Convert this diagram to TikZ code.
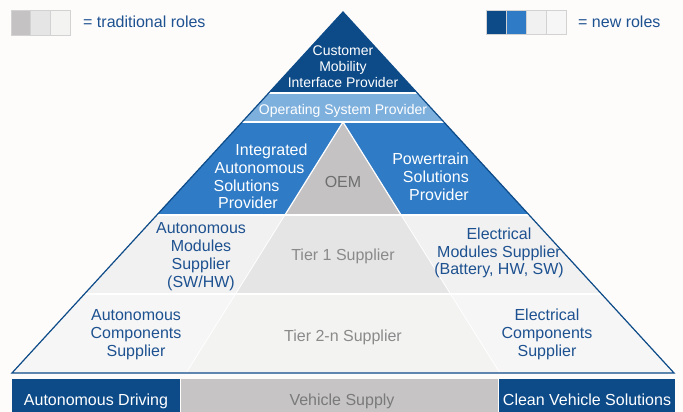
\documentclass[tikz,border=0pt]{standalone}
\usepackage{fontspec}
\setmainfont{Liberation Sans}
\definecolor{dblue}{HTML}{0C4A88}
\definecolor{mblue}{HTML}{2F7BC6}
\definecolor{lblue}{HTML}{7EB0DD}
\definecolor{oemgray}{HTML}{C4C2C2}
\definecolor{tonside}{HTML}{F1F1F1}
\definecolor{tonmid}{HTML}{E6E5E5}
\definecolor{ttwoside}{HTML}{F6F6F6}
\definecolor{ttwomid}{HTML}{F3F3F2}
\definecolor{txtblue}{HTML}{1D5190}
\definecolor{txtgray}{HTML}{8A8A8A}
\definecolor{oemtxt}{HTML}{6E6E6E}
\definecolor{bargray}{HTML}{C6C4C4}
\definecolor{bartxt}{HTML}{7A7A7A}
\definecolor{bgcol}{HTML}{FDFCFB}
\definecolor{sqborder}{HTML}{D2D2D2}
\begin{document}
\begin{tikzpicture}[x=1pt,y=-1pt,
  lbl/.style={font=\fontsize{16}{18}\selectfont, anchor=base, inner sep=0pt},
  smalllbl/.style={lbl, font=\fontsize{14}{16}\selectfont},
  wt/.style={lbl, text=white},
  bt/.style={lbl, text=txtblue},
  gt/.style={lbl, text=txtgray},
  sep/.style={white, line width=2pt},
  thinsep/.style={white, line width=1.2pt},
  sq/.style={draw=sqborder, line width=0.8pt}]
\useasboundingbox (0,0) rectangle (683,412);
\fill[bgcol] (0,0) rectangle (683,412);

% legend
\filldraw[sq, fill=oemgray] (11,10) rectangle (30.7,35);
\filldraw[sq, fill=tonmid] (30.7,10) rectangle (50.3,35);
\filldraw[sq, fill=ttwomid] (50.3,10) rectangle (70,35);
\node[bt, anchor=base west] (legtrad) at (83,28) {= traditional roles};
\filldraw[sq, fill=dblue] (486,10) rectangle (506,34);
\filldraw[sq, fill=mblue] (506,10) rectangle (526,34);
\filldraw[sq, fill=tonside] (526,10) rectangle (546,34);
\filldraw[sq, fill=ttwoside] (546,10) rectangle (566,34);
\node[bt, anchor=base west] (legnew) at (578,27.5) {= new roles};

% pyramid bands
\fill[dblue] (343,12) -- (268.7,93) -- (417.3,93) -- cycle;
\fill[lblue] (268.7,93) -- (417.3,93) -- (443.9,122) -- (242.1,122) -- cycle;
\fill[mblue] (242.1,122) -- (443.9,122) -- (529.2,215) -- (156.8,215) -- cycle;
\fill[oemgray] (343,122) -- (401.1,215) -- (284.9,215) -- cycle;
\fill[tonside] (156.8,215) -- (529.2,215) -- (601.6,294) -- (84.4,294) -- cycle;
\fill[tonmid] (284.9,215) -- (401.1,215) -- (450.5,294) -- (235.5,294) -- cycle;
\fill[ttwoside] (84.4,294) -- (601.6,294) -- (674,373) -- (12,373) -- cycle;
\fill[ttwomid] (235.5,294) -- (450.5,294) -- (499.9,373) -- (186.1,373) -- cycle;

% separators
\draw[sep] (268.7,93) -- (417.3,93);
\draw[sep] (242.1,122) -- (443.9,122);
\draw[thinsep] (156.8,215) -- (529.2,215);
\draw[thinsep] (84.4,294) -- (601.6,294);
\draw[thinsep] (284.9,215) -- (343,122) -- (401.1,215);
\draw[white, line width=0.8pt] (284.9,215) -- (186.1,373);
\draw[white, line width=0.8pt] (401.1,215) -- (499.9,373);

% outline
\draw[dblue, line width=1.2pt, line join=miter] (343,12) -- (674,373) -- (12,373) -- cycle;

% labels
\node[smalllbl, text=white] (cm1) at (343,56) {Customer};
\node[smalllbl, text=white] (cm2) at (343,71.7) {Mobility};
\node[smalllbl, text=white] (cm3) at (343,87.5) {Interface Provider};
\node[smalllbl, text=white] (os) at (343,114.3) {Operating System Provider};

\node[wt] (ia1) at (271.5,155) {Integrated};
\node[wt] (ia2) at (259.5,173.3) {Autonomous};
\node[wt] (ia3) at (246.5,191) {Solutions};
\node[wt] (ia4) at (248,208.3) {Provider};

\node[wt, anchor=base east] (pt1) at (469,164.3) {Powertrain};
\node[wt, anchor=base east] (pt2) at (469,182.3) {Solutions};
\node[wt, anchor=base east] (pt3) at (469,200) {Provider};

\node[lbl, text=oemtxt] (oem) at (343,187.3) {OEM};

\node[bt] (am1) at (201,233.5) {Autonomous};
\node[bt] (am2) at (201,251.3) {Modules};
\node[bt] (am3) at (201,269) {Supplier};
\node[bt] (am4) at (201,287) {(SW/HW)};

\node[gt] (tone) at (343,260) {Tier 1 Supplier};

\node[bt] (em1) at (499,239.3) {Electrical};
\node[bt] (em2) at (499,257) {Modules Supplier};
\node[bt] (em3) at (499,274.5) {(Battery, HW, SW)};

\node[bt] (ac1) at (136,320) {Autonomous};
\node[bt] (ac2) at (136,338) {Components};
\node[bt] (ac3) at (136,356) {Supplier};

\node[gt] (ttwo) at (343,341) {Tier 2-n Supplier};

\node[bt] (ec1) at (547,320) {Electrical};
\node[bt] (ec2) at (547,338) {Components};
\node[bt] (ec3) at (547,356) {Supplier};

% bottom bar
\fill[dblue] (12,379) rectangle (180,412);
\fill[bargray] (181,379) rectangle (498,412);
\fill[dblue] (499,379) rectangle (675,412);
\node[wt] (bad) at (96,405) {Autonomous Driving};
\node[lbl, text=bartxt] (bvs) at (342,405) {Vehicle Supply};
\node[wt] (bcv) at (587,405) {Clean Vehicle Solutions};
\end{tikzpicture}
\end{document}
